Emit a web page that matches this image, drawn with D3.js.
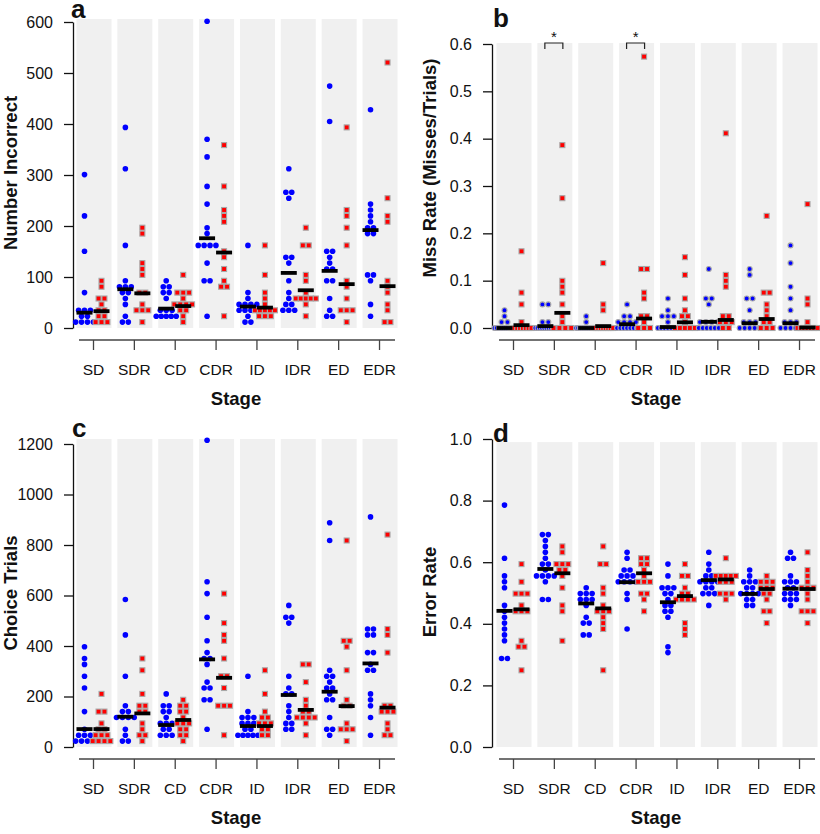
<!DOCTYPE html>
<html>
<head>
<meta charset="utf-8">
<script src="https://cdn.jsdelivr.net/npm/d3@7"></script>
<style>
body { margin: 0; background: #fff; }
text { font-family: "Liberation Sans", Arial, sans-serif; fill: #111; }
</style>
</head>
<body>
<div id="chart"></div>
<script>
var stages = ["SD", "SDR", "CD", "CDR", "ID", "IDR", "ED", "EDR"];

// a: Number Incorrect
var incorrectBlue = [
	[296, 220, 146, 65, 35, 32, 29, 25, 18, 12, 10, 8, 6],
	[398, 310, 157, 92, 82, 78, 76, 75, 67, 57, 47, 25, 15, 15],
	[90, 80, 78, 72, 68, 58, 40, 37, 35, 25, 25, 25, 25, 25],
	[605, 375, 332, 277, 243, 200, 190, 157, 157, 157, 157, 124, 91, 91, 25],
	[167, 68, 58, 52, 47, 45, 42, 40, 38, 35, 30, 25, 14, 14],
	[313, 270, 268, 258, 138, 138, 127, 95, 73, 62, 52, 50, 40, 38, 30],
	[476, 410, 148, 148, 138, 127, 115, 110, 95, 95, 60, 40, 28, 18],
	[433, 248, 237, 225, 205, 200, 192, 190, 183, 105, 105, 95, 52, 19]
];
var incorrectRed = [
	[97, 76, 55, 53, 43, 35, 31, 22, 20, 10, 10, 10],
	[200, 189, 124, 112, 100, 68, 68, 45, 37, 37, 37, 13],
	[107, 75, 75, 75, 63, 52, 45, 43, 42, 32, 30, 20, 8],
	[361, 274, 230, 220, 208, 148, 142, 120, 87, 78, 78, 22],
	[162, 107, 75, 63, 52, 40, 30, 30, 30, 30, 20, 20, 20],
	[191, 158, 158, 105, 94, 73, 62, 60, 60, 60, 60, 49, 28],
	[393, 228, 218, 197, 165, 87, 85, 55, 35, 35, 35, 10],
	[519, 257, 224, 203, 93, 83, 70, 50, 30, 16, 16]
];
var incorrectBlueMed = [30, 76, 38, 176, 42, 108, 112, 192];
var incorrectRedMed = [33, 68, 43, 148, 40, 74, 86, 82];

// b: Miss Rate
var missBlue = [
	[0.037, 0.019, 0.011, 0.009, 0.003, 0, 0, 0, 0, 0, 0, 0, 0, 0],
	[0.052, 0.046, 0.015, 0.010, 0.005, 0.003, 0.003, 0.002, 0, 0, 0, 0, 0, 0],
	[0.025, 0.012, 0, 0, 0, 0, 0, 0, 0, 0, 0, 0, 0, 0],
	[0.054, 0.021, 0.019, 0.013, 0.010, 0.008, 0.008, 0.005, 0.003, 0, 0, 0, 0, 0],
	[0.060, 0.036, 0.023, 0.022, 0.019, 0.010, 0.003, 0.002, 0, 0, 0, 0, 0],
	[0.124, 0.062, 0.059, 0.049, 0.018, 0.016, 0.012, 0.010, 0.005, 0.002, 0, 0, 0, 0],
	[0.122, 0.107, 0.065, 0.063, 0.042, 0.012, 0.010, 0.009, 0.005, 0, 0, 0, 0],
	[0.180, 0.133, 0.090, 0.061, 0.032, 0.013, 0.011, 0.009, 0.005, 0, 0, 0, 0]
];
var missRed = [
	[0.159, 0.079, 0.044, 0.015, 0.006, 0.005, 0.003, 0, 0, 0, 0, 0],
	[0.385, 0.270, 0.101, 0.084, 0.070, 0.044, 0.020, 0.008, 0, 0, 0, 0],
	[0.137, 0.055, 0.038, 0.006, 0.004, 0.004, 0.003, 0, 0, 0, 0, 0],
	[0.577, 0.130, 0.124, 0.080, 0.060, 0.024, 0.019, 0.014, 0, 0, 0],
	[0.152, 0.107, 0.058, 0.032, 0.028, 0.022, 0.010, 0.005, 0, 0, 0, 0],
	[0.412, 0.106, 0.099, 0.091, 0.022, 0.021, 0.016, 0.016, 0.008, 0.004, 0],
	[0.240, 0.080, 0.069, 0.055, 0.042, 0.023, 0.018, 0.012, 0, 0, 0],
	[0.265, 0.064, 0.044, 0.008, 0.004, 0, 0, 0, 0, 0, 0]
];
var missBlueMed = [0.0, 0.004, 0.0, 0.008, 0.002, 0.013, 0.010, 0.010];
var missRedMed = [0.006, 0.032, 0.004, 0.020, 0.012, 0.017, 0.019, 0.001];
var missSignif = ["SDR", "CDR"];

// c: Choice Trials
var trialsBlue = [
	[405, 362, 318, 273, 228, 140, 72, 55, 55, 55, 35, 35, 35, 35],
	[587, 453, 276, 166, 148, 146, 122, 120, 118, 115, 78, 56, 35, 35],
	[205, 162, 160, 140, 138, 112, 95, 90, 88, 72, 70, 52, 50, 50],
	[1218, 663, 618, 510, 420, 375, 358, 345, 333, 268, 245, 225, 180, 180, 67],
	[281, 149, 126, 108, 107, 105, 95, 82, 72, 68, 55, 38, 38, 38, 38],
	[550, 510, 508, 483, 285, 240, 215, 205, 175, 150, 128, 90, 88, 65, 65],
	[880, 812, 305, 285, 283, 262, 243, 240, 220, 198, 195, 126, 63, 60, 40],
	[920, 478, 458, 455, 435, 370, 368, 330, 300, 300, 212, 190, 168, 123, 36]
];
var trialsRed = [
	[205, 140, 140, 95, 75, 70, 55, 55, 55, 35, 35, 35, 35],
	[345, 300, 212, 167, 167, 135, 130, 100, 80, 58, 55, 35],
	[180, 162, 160, 140, 138, 120, 105, 92, 88, 72, 70, 55, 55, 28],
	[597, 487, 441, 420, 354, 289, 274, 222, 156, 156, 156, 44],
	[313, 202, 140, 115, 113, 95, 83, 82, 70, 68, 48, 48],
	[338, 317, 250, 185, 165, 150, 143, 120, 120, 120, 118, 95, 52],
	[822, 426, 422, 405, 314, 183, 162, 160, 90, 74, 74, 74, 29],
	[835, 459, 439, 368, 170, 155, 150, 150, 150, 105, 60, 40, 40]
];
var trialsBlueMed = [71, 120, 87, 347, 83, 206, 219, 331];
var trialsRedMed = [71, 133, 107, 274, 83, 147, 162, 156];

// d: Error Rate
var errorBlue = [
	[0.790, 0.609, 0.556, 0.537, 0.520, 0.466, 0.442, 0.428, 0.393, 0.377, 0.356, 0.339, 0.286, 0.286],
	[0.688, 0.688, 0.667, 0.650, 0.631, 0.616, 0.598, 0.596, 0.578, 0.561, 0.561, 0.560, 0.558, 0.540, 0.488, 0.470],
	[0.518, 0.505, 0.500, 0.490, 0.485, 0.481, 0.470, 0.467, 0.428, 0.408, 0.406, 0.373, 0.355],
	[0.641, 0.604, 0.570, 0.568, 0.555, 0.553, 0.550, 0.535, 0.535, 0.534, 0.533, 0.499, 0.478, 0.387],
	[0.585, 0.548, 0.512, 0.510, 0.508, 0.493, 0.490, 0.471, 0.460, 0.456, 0.441, 0.440, 0.421, 0.331, 0.313],
	[0.627, 0.591, 0.575, 0.558, 0.556, 0.545, 0.542, 0.540, 0.538, 0.521, 0.519, 0.501, 0.500, 0.498, 0.464],
	[0.580, 0.548, 0.535, 0.530, 0.530, 0.515, 0.510, 0.499, 0.495, 0.492, 0.490, 0.472, 0.470, 0.453, 0.453],
	[0.640, 0.622, 0.605, 0.555, 0.540, 0.537, 0.535, 0.520, 0.516, 0.500, 0.498, 0.496, 0.480, 0.478, 0.476, 0.461]
];
var errorRed = [
	[0.600, 0.545, 0.491, 0.491, 0.491, 0.455, 0.447, 0.437, 0.437, 0.347, 0.329, 0.329, 0.257],
	[0.645, 0.630, 0.594, 0.594, 0.594, 0.575, 0.566, 0.560, 0.523, 0.469, 0.432, 0.342],
	[0.656, 0.602, 0.586, 0.512, 0.494, 0.462, 0.450, 0.441, 0.441, 0.423, 0.404, 0.386, 0.241],
	[0.620, 0.604, 0.602, 0.600, 0.580, 0.565, 0.545, 0.545, 0.527, 0.496, 0.496, 0.478, 0.439],
	[0.585, 0.548, 0.548, 0.512, 0.492, 0.490, 0.488, 0.488, 0.472, 0.470, 0.402, 0.384, 0.366],
	[0.615, 0.562, 0.562, 0.562, 0.560, 0.560, 0.545, 0.545, 0.527, 0.505, 0.505, 0.490, 0.472],
	[0.564, 0.545, 0.545, 0.528, 0.520, 0.514, 0.512, 0.495, 0.490, 0.470, 0.441, 0.441, 0.402],
	[0.631, 0.577, 0.559, 0.540, 0.520, 0.515, 0.514, 0.505, 0.488, 0.450, 0.434, 0.434, 0.396]
];
var errorBlueMed = [0.442, 0.578, 0.466, 0.535, 0.470, 0.542, 0.497, 0.514];
var errorRedMed = [0.447, 0.564, 0.450, 0.564, 0.490, 0.544, 0.513, 0.513];

var width = 820, height = 834;

var svg = d3.select("#chart").append("svg")
	.attr("width", width)
	.attr("height", height);

// panel layouts (pixels)
var panels = [
	{ letter: "a", title: "Number Incorrect", blue: incorrectBlue, red: incorrectRed,
	  blueMed: incorrectBlueMed, redMed: incorrectRedMed, ticks: d3.range(0, 601, 100), fmt: d3.format("d"),
	  bandTop: 606, axisX: 73, y0: 328, yTop: 22, stage0: 93, letterX: 71, letterY: 18, titleY: 173, ring: false },
	{ letter: "b", title: "Miss Rate (Misses/Trials)", blue: missBlue, red: missRed,
	  blueMed: missBlueMed, redMed: missRedMed, ticks: d3.range(0, 0.61, 0.1), fmt: d3.format(".1f"),
	  bandTop: 0.602, axisX: 492, y0: 328, yTop: 44, stage0: 513, letterX: 493, letterY: 27, titleY: 168, ring: true,
	  signif: missSignif },
	{ letter: "c", title: "Choice Trials", blue: trialsBlue, red: trialsRed,
	  blueMed: trialsBlueMed, redMed: trialsRedMed, ticks: d3.range(0, 1201, 200), fmt: d3.format("d"),
	  bandTop: 1220, axisX: 73, y0: 747, yTop: 444, stage0: 93, letterX: 72, letterY: 437, titleY: 593, ring: false },
	{ letter: "d", title: "Error Rate", blue: errorBlue, red: errorRed,
	  blueMed: errorBlueMed, redMed: errorRedMed, ticks: d3.range(0, 1.01, 0.2), fmt: d3.format(".1f"),
	  bandTop: 0.99, axisX: 492, y0: 747, yTop: 439, stage0: 513, letterX: 493, letterY: 442, titleY: 592, ring: false }
];

var stageStep = 40.86;
var dotStep = 5.9;   // swarm grid spacing
var maxRow = 20;     // widest a swarm row may get before points overlap
var groupOff = 8.5;

// "center" style beeswarm: bin by y on a grid, center each row around cx
function swarm(values, cx, y) {
	var y0 = y(0);
	var bins = {};
	values.forEach(function(v) {
		var b = Math.round((y0 - y(v)) / dotStep);
		(bins[b] = bins[b] || []).push(v);
	});
	var out = [];
	Object.keys(bins).forEach(function(b) {
		var n = bins[b].length;
		var step = n > 1 ? Math.min(dotStep, maxRow / (n - 1)) : 0;
		bins[b].forEach(function(v, i) {
			out.push({ x: cx + (i - (n - 1) / 2) * step, y: y0 - (+b) * dotStep });
		});
	});
	return out;
}

panels.forEach(function(p) {
	var g = svg.append("g");
	var tmax = p.ticks[p.ticks.length - 1];

	var y = d3.scaleLinear().domain([0, tmax]).range([p.y0, p.yTop]);
	var x = d3.scalePoint().domain(stages)
		.range([p.stage0, p.stage0 + stageStep * (stages.length - 1)]);

	// background bands
	g.selectAll("rect.band")
		.data(stages)
		.enter()
		.append("rect")
		.attr("class", "band")
		.attr("x", d => x(d) - 16.5)
		.attr("width", 35)
		.attr("y", y(p.bandTop))
		.attr("height", p.y0 - y(p.bandTop))
		.attr("fill", "#f0f0f0");

	// Y axis
	var yAxis = g.append("g")
		.attr("transform", "translate(" + p.axisX + ",0)")
		.call(d3.axisLeft(y).tickValues(p.ticks).tickFormat(p.fmt).tickSize(9).tickPadding(11).tickSizeOuter(0));
	yAxis.select(".domain").attr("stroke", "#111").attr("stroke-width", 1.3);
	yAxis.selectAll(".tick line").attr("stroke", "#111").attr("stroke-width", 1.3);
	yAxis.selectAll("text").attr("font-size", 16).attr("fill", "#111")
		.style("font-family", "'Liberation Sans', Arial, sans-serif");

	// X axis, detached below the plot
	var xAxis = g.append("g")
		.attr("transform", "translate(0," + (p.y0 + 12) + ")")
		.call(d3.axisBottom(x).tickSize(10).tickPadding(14).tickSizeOuter(0));
	xAxis.select(".domain")
		.attr("d", "M" + (p.stage0 - 14) + ",0H" + (p.stage0 + stageStep * 7 + 16))
		.attr("stroke", "#444").attr("stroke-width", 1.3);
	xAxis.selectAll(".tick line").attr("stroke", "#444").attr("stroke-width", 1.3);
	xAxis.selectAll("text").attr("font-size", 15.5).attr("fill", "#111")
		.style("font-family", "'Liberation Sans', Arial, sans-serif");

	// points
	stages.forEach(function(s, i) {
		var bpts = swarm(p.blue[i], x(s) - groupOff, y);
		var rpts = swarm(p.red[i], x(s) + groupOff, y);

		g.selectAll(null)
			.data(bpts)
			.enter()
			.append("circle")
			.attr("cx", d => d.x)
			.attr("cy", d => d.y)
			.attr("r", p.ring ? 2.5 : 2.8)
			.attr("fill", "#0000ff")
			.attr("stroke", p.ring ? "#a8a8a8" : "none")
			.attr("stroke-width", 1.1);

		g.selectAll(null)
			.data(rpts)
			.enter()
			.append("rect")
			.attr("x", d => d.x - 2.5)
			.attr("y", d => d.y - 2.5)
			.attr("width", 5)
			.attr("height", 5)
			.attr("fill", "#ff0000")
			.attr("stroke", "#a8a8a8")
			.attr("stroke-width", 1.1);

		// medians
		[[p.blueMed[i], -groupOff], [p.redMed[i], groupOff]].forEach(function(m) {
			g.append("line")
				.attr("x1", x(s) + m[1] - 8)
				.attr("x2", x(s) + m[1] + 8)
				.attr("y1", y(m[0]))
				.attr("y2", y(m[0]))
				.attr("stroke", "#000")
				.attr("stroke-width", 3.8);
		});
	});

	// significance brackets
	(p.signif || []).forEach(function(s) {
		var by = y(tmax) - 1;
		g.append("path")
			.attr("d", "M" + (x(s) - 9) + "," + (by + 6) + "V" + by + "H" + (x(s) + 9) + "V" + (by + 6))
			.attr("fill", "none")
			.attr("stroke", "#222")
			.attr("stroke-width", 1.2);
		g.append("text")
			.attr("x", x(s))
			.attr("y", by - 1.5)
			.attr("text-anchor", "middle")
			.attr("font-size", 15)
			.text("*");
	});

	// titles
	g.append("text")
		.attr("transform", "translate(" + (p.axisX - 56) + "," + p.titleY + ")rotate(-90)")
		.attr("text-anchor", "middle")
		.attr("font-size", 18.5)
		.attr("font-weight", "bold")
		.text(p.title);

	g.append("text")
		.attr("x", p.stage0 + stageStep * 3.5)
		.attr("y", p.y0 + 77)
		.attr("text-anchor", "middle")
		.attr("font-size", 18.5)
		.attr("font-weight", "bold")
		.text("Stage");

	g.append("text")
		.attr("x", p.letterX)
		.attr("y", p.letterY)
		.attr("font-size", 26)
		.attr("font-weight", "bold")
		.text(p.letter);
});
</script>
</body>
</html>
